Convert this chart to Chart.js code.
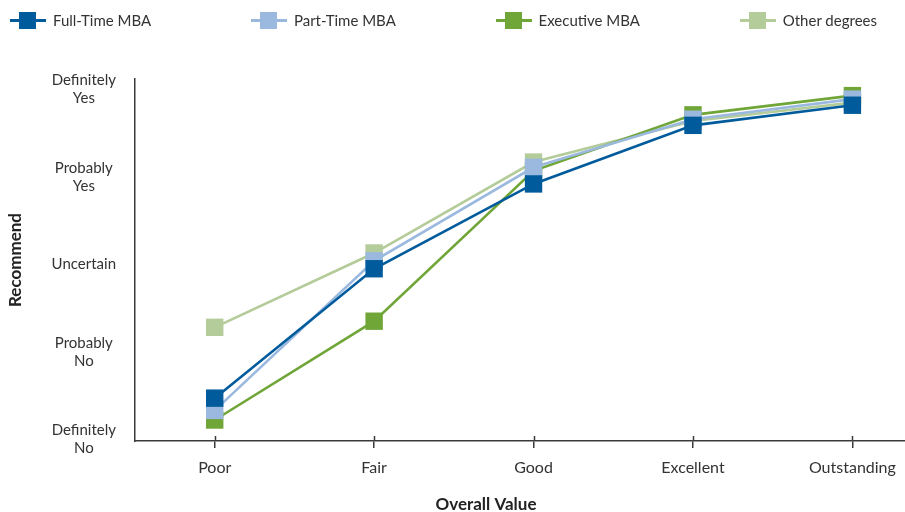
<!DOCTYPE html>
<html>
<head>
<meta charset="utf-8">
<script src="https://cdn.jsdelivr.net/npm/chart.js@4.4.1/dist/chart.umd.min.js"></script>
<style>
  html, body { margin: 0; padding: 0; background: #fff; overflow: hidden; }
  #wrap { position: relative; width: 905px; height: 512px; }
  #legend {
    position: absolute; left: 10px; top: 11px; width: 867px; height: 18px;
    display: flex; justify-content: space-between; align-items: center;
    font: 15px Lato, "Open Sans", sans-serif; color: #333;
  }
  #legend .item { display: flex; align-items: center; gap: 7px; white-space: nowrap; }
  #legend canvas { display: block; }
</style>
</head>
<body>
<div id="wrap">
  <canvas id="valueChart"></canvas>
  <div id="legend"></div>
</div>
<script>
// Categorias do eixo X e níveis de recomendação do eixo Y
const categories = ['Poor', 'Fair', 'Good', 'Excellent', 'Outstanding'];
const recommendLevels = [['Definitely', 'No'], ['Probably', 'No'], 'Uncertain', ['Probably', 'Yes'], ['Definitely', 'Yes']];
const levelValues = [1, 2, 3, 4, 5];

// Médias por tipo de programa
const fullTime = [1.47, 2.95, 3.92, 4.59, 4.82];
const partTime = [1.33, 3.04, 4.11, 4.66, 4.89];
const executive = [1.22, 2.35, 4.07, 4.71, 4.93];
const otherDegrees = [2.28, 3.13, 4.17, 4.64, 4.85];

const seriesNames = ['Full-Time MBA', 'Part-Time MBA', 'Executive MBA', 'Other degrees'];
const seriesColors = ['#005b9c', '#9bb9df', '#70a538', '#b4cb9a'];
const seriesValues = [fullTime, partTime, executive, otherDegrees];

const FONT = 'Lato, "Open Sans", sans-serif';
const TEXT = '#333333';
const AXIS = '#3a3a3a';

// Ícone da legenda: linha com quadrado no meio
function legendIcon(color) {
    const c = document.createElement('canvas');
    c.width = 36;
    c.height = 17;
    const g = c.getContext('2d');
    g.fillStyle = color;
    g.fillRect(0, 7, 36, 3);
    g.fillRect(9, 0, 17, 17);
    return c;
}

const datasets = seriesValues.map((vals, i) => ({
    label: seriesNames[i],
    data: vals.map((v, k) => ({ x: k, y: v })),
    borderColor: seriesColors[i],
    backgroundColor: seriesColors[i],
    borderWidth: 2.6,
    pointStyle: 'rect',
    pointRadius: 12.3,
    pointHoverRadius: 12.3,
    pointBorderWidth: 0,
    pointBackgroundColor: seriesColors[i],
    tension: 0
}));

// Legenda em HTML para controlar o espaçamento entre os itens
const legendBox = document.getElementById('legend');
datasets.forEach((ds, i) => {
    const item = document.createElement('div');
    item.className = 'item';
    const label = document.createElement('span');
    label.textContent = ds.label;
    item.append(legendIcon(seriesColors[i]), label);
    legendBox.append(item);
});

// Título do eixo X e marcas que cruzam a linha do eixo
const axisExtras = {
    id: 'axisExtras',
    afterDraw(chart) {
        const ctx = chart.ctx;
        const xs = chart.scales.x;
        ctx.save();
        ctx.strokeStyle = AXIS;
        ctx.lineWidth = 1.5;
        xs.ticks.forEach((t, i) => {
            const px = Math.round(xs.getPixelForTick(i)) + 0.5;
            ctx.beginPath();
            ctx.moveTo(px, xs.top - 5);
            ctx.lineTo(px, xs.top);
            ctx.stroke();
        });
        ctx.font = 'bold 17px ' + FONT;
        ctx.fillStyle = '#222';
        ctx.textAlign = 'center';
        ctx.textBaseline = 'middle';
        ctx.fillText('Overall Value', 486, 505);
        ctx.restore();
    }
};

new Chart(document.getElementById('valueChart'), {
    type: 'line',
    data: { datasets: datasets },
    plugins: [axisExtras],
    options: {
        responsive: true,
        maintainAspectRatio: false,
        animation: false,
        layout: { autoPadding: false, padding: { left: 0, right: 0, top: 79, bottom: 0 } },
        plugins: {
            tooltip: { enabled: false },
            legend: { display: false }
        },
        scales: {
            x: {
                type: 'linear',
                min: -0.5,
                max: 4.33,
                afterBuildTicks(scale) {
                    scale.ticks = categories.map((c, i) => ({ value: i }));
                },
                afterFit(scale) {
                    scale.height = 71;
                    scale.paddingLeft = 0;
                    scale.paddingRight = 0;
                },
                ticks: {
                    padding: 10,
                    color: TEXT,
                    font: { family: FONT, size: 16 },
                    callback: (v) => categories[v]
                },
                grid: {
                    drawOnChartArea: false,
                    drawTicks: true,
                    tickLength: 7,
                    color: AXIS,
                    lineWidth: 1.5
                },
                border: { display: true, color: AXIS, width: 1.5 }
            },
            y: {
                min: 0.98,
                max: 5.12,
                afterBuildTicks(scale) {
                    scale.ticks = levelValues.map(v => ({ value: v }));
                },
                afterFit(scale) { scale.width = 135; },
                ticks: {
                    padding: 19,
                    crossAlign: 'center',
                    color: TEXT,
                    font: { family: FONT, size: 15, lineHeight: 1.2 },
                    callback: (v) => recommendLevels[v - 1]
                },
                grid: { display: false, drawTicks: false },
                border: { display: true, color: AXIS, width: 1.5 },
                title: {
                    display: true,
                    text: 'Recommend',
                    color: '#222',
                    font: { family: FONT, size: 17, weight: 'bold' },
                    padding: { top: 5, bottom: 0 }
                }
            }
        }
    }
});
</script>
</body>
</html>
